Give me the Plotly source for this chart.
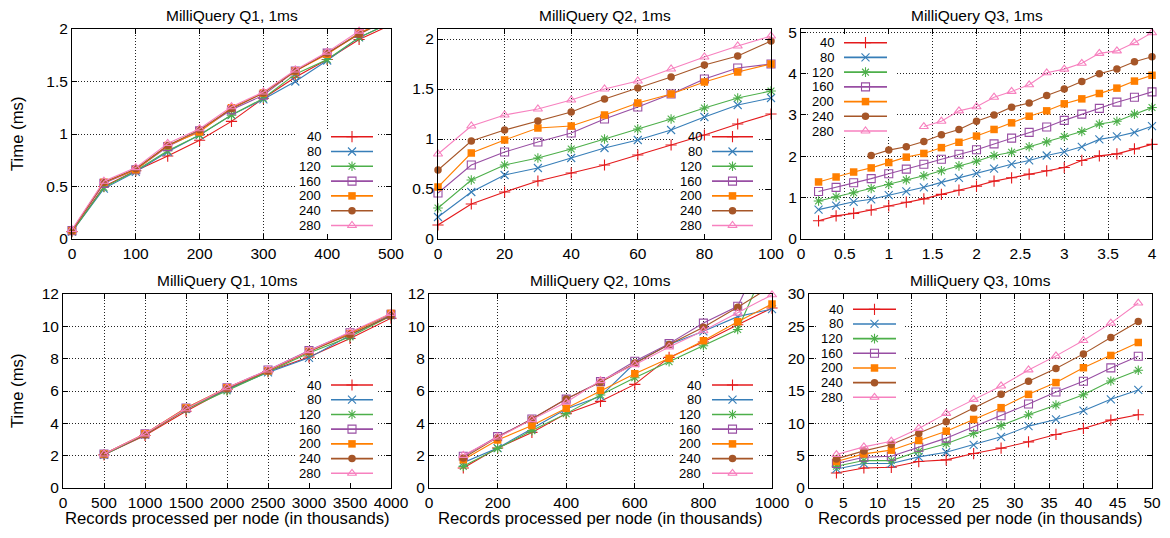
import plotly.graph_objects as go

# ---------------- data ----------------
SERIES = [40, 80, 120, 160, 200, 240, 280]
COLORS = ['#e41a1c', '#377eb8', '#4daf4a', '#984ea3', '#ff7f00', '#a65628', '#f781bf']
SYMBOLS = ['cross-thin', 'x-thin', 'asterisk', 'square-open', 'square', 'circle', 'triangle-up-open']

TITLES = ['MilliQuery Q1, 1ms', 'MilliQuery Q2, 1ms', 'MilliQuery Q3, 1ms',
          'MilliQuery Q1, 10ms', 'MilliQuery Q2, 10ms', 'MilliQuery Q3, 10ms']

Q1_1MS_X = [0, 50, 100, 150, 200, 250, 300, 350, 400, 450, 500]
Q1_1MS_Y = [
    [0.07, 0.50, 0.65, 0.79, 0.94, 1.12, 1.34, 1.54, 1.71, 1.90, 2.04],
    [0.07, 0.48, 0.64, 0.83, 0.99, 1.18, 1.33, 1.50, 1.70, 1.92, 2.06],
    [0.07, 0.49, 0.65, 0.84, 0.99, 1.18, 1.34, 1.57, 1.71, 1.92, 2.06],
    [0.08, 0.53, 0.66, 0.88, 1.03, 1.23, 1.37, 1.60, 1.77, 1.96, 2.10],
    [0.08, 0.54, 0.66, 0.89, 1.02, 1.25, 1.39, 1.60, 1.76, 1.96, 2.10],
    [0.08, 0.54, 0.67, 0.89, 1.04, 1.24, 1.39, 1.60, 1.77, 1.95, 2.10],
    [0.09, 0.55, 0.68, 0.91, 1.05, 1.26, 1.40, 1.61, 1.78, 1.98, 2.12],
]

Q2_1MS_X = [0, 10, 20, 30, 40, 50, 60, 70, 80, 90, 100]
Q2_1MS_Y = [
    [0.14, 0.35, 0.47, 0.58, 0.66, 0.74, 0.84, 0.94, 1.04, 1.15, 1.25],
    [0.22, 0.47, 0.64, 0.71, 0.81, 0.91, 0.99, 1.09, 1.22, 1.34, 1.41],
    [0.31, 0.59, 0.74, 0.81, 0.90, 1.00, 1.10, 1.20, 1.31, 1.41, 1.48],
    [0.46, 0.74, 0.87, 0.97, 1.06, 1.20, 1.32, 1.45, 1.60, 1.71, 1.75],
    [0.52, 0.86, 0.99, 1.11, 1.13, 1.24, 1.36, 1.45, 1.57, 1.67, 1.75],
    [0.69, 0.98, 1.09, 1.18, 1.27, 1.40, 1.51, 1.62, 1.74, 1.83, 1.98],
    [0.85, 1.13, 1.24, 1.30, 1.39, 1.50, 1.58, 1.70, 1.82, 1.93, 2.03],
]

Q3_1MS_X = [0.2, 0.4, 0.6, 0.8, 1.0, 1.2, 1.4, 1.6, 1.8, 2.0,
            2.2, 2.4, 2.6, 2.8, 3.0, 3.2, 3.4, 3.6, 3.8, 4.0]
Q3_1MS_Y = [
    [0.44, 0.56, 0.62, 0.70, 0.80, 0.89, 0.97, 1.08, 1.18, 1.28,
     1.40, 1.48, 1.57, 1.65, 1.73, 1.90, 2.01, 2.06, 2.18, 2.29],
    [0.71, 0.81, 0.90, 0.96, 1.06, 1.15, 1.25, 1.37, 1.48, 1.59,
     1.70, 1.81, 1.90, 2.02, 2.11, 2.23, 2.41, 2.48, 2.58, 2.73],
    [0.92, 1.02, 1.12, 1.22, 1.32, 1.43, 1.53, 1.65, 1.77, 1.88,
     2.02, 2.10, 2.23, 2.35, 2.48, 2.60, 2.78, 2.85, 3.02, 3.18],
    [1.15, 1.25, 1.36, 1.46, 1.58, 1.69, 1.81, 1.93, 2.05, 2.16,
     2.30, 2.44, 2.58, 2.71, 2.87, 3.02, 3.16, 3.31, 3.43, 3.56],
    [1.38, 1.50, 1.62, 1.72, 1.85, 1.98, 2.07, 2.21, 2.34, 2.49,
     2.65, 2.81, 2.97, 3.10, 3.27, 3.39, 3.52, 3.65, 3.82, 3.96],
    [None, None, None, 2.02, 2.15, 2.23, 2.36, 2.52, 2.65, 2.85,
     3.00, 3.19, 3.29, 3.47, 3.63, 3.81, 4.00, 4.11, 4.29, 4.41],
    [None, None, None, None, None, None, 2.72, 2.85, 3.10, 3.20,
     3.43, 3.57, 3.73, 4.02, 4.11, 4.25, 4.49, 4.55, 4.75, 4.99],
]

Q1_10MS_X = [500, 1000, 1500, 2000, 2500, 3000, 3500, 4000]
Q1_10MS_Y = [
    [2.05, 3.25, 4.75, 6.10, 7.20, 8.10, 9.25, 10.50],
    [2.05, 3.30, 4.90, 6.10, 7.15, 8.05, 9.45, 10.70],
    [2.05, 3.30, 4.85, 6.00, 7.20, 8.35, 9.35, 10.65],
    [2.10, 3.35, 4.95, 6.20, 7.30, 8.50, 9.60, 10.75],
    [2.10, 3.35, 4.95, 6.20, 7.25, 8.45, 9.55, 10.80],
    [2.10, 3.30, 4.90, 6.15, 7.25, 8.45, 9.50, 10.65],
    [2.10, 3.35, 4.90, 6.20, 7.30, 8.50, 9.65, 10.80],
]

Q2_10MS_X = [100, 200, 300, 400, 500, 600, 700, 800, 900, 1000]
Q2_10MS_Y = [
    [1.24, 2.47, 3.44, 4.60, 5.36, 6.41, 8.08, 9.03, 10.10, 11.13],
    [1.57, 2.47, 3.67, 4.89, 5.67, 7.73, 8.87, 9.69, 10.60, 11.07],
    [1.34, 2.45, 3.55, 4.60, 5.75, 6.82, 7.81, 8.80, 9.80, 14.60],
    [1.96, 3.18, 4.27, 5.50, 6.58, 7.84, 8.93, 10.20, 11.24, 15.70],
    [1.75, 2.97, 3.86, 4.93, 6.04, 7.07, 8.02, 9.11, 10.29, 11.38],
    [1.86, 3.13, 4.27, 5.50, 6.54, 7.73, 8.87, 9.94, 11.18, 12.50],
    [2.02, 3.15, 4.23, 5.30, 6.64, 7.63, 8.72, 9.73, 10.82, 11.95],
]

Q3_10MS_X = [4, 8, 12, 16, 20, 24, 28, 32, 36, 40, 44, 48]
Q3_10MS_Y = [
    [2.33, 3.10, 3.20, 4.09, 4.35, 5.33, 6.16, 7.14, 8.28, 9.21, 10.50, 11.33],
    [2.95, 3.78, 3.78, 4.81, 5.53, 6.67, 7.91, 9.57, 10.60, 11.95, 13.71, 15.16],
    [3.36, 4.24, 4.24, 5.69, 6.83, 8.43, 9.67, 11.33, 12.83, 14.43, 16.55, 18.20],
    [3.78, 4.76, 4.91, 6.31, 7.71, 9.47, 11.17, 12.98, 14.85, 16.50, 18.57, 20.38],
    [4.09, 5.28, 5.85, 7.35, 8.79, 10.60, 12.42, 14.48, 16.30, 18.60, 20.50, 22.50],
    [4.50, 5.74, 6.72, 8.43, 10.24, 12.36, 14.48, 16.50, 18.47, 20.74, 23.28, 25.76],
    [5.17, 6.36, 7.24, 9.21, 11.54, 13.71, 15.78, 18.26, 20.43, 22.81, 25.50, 28.60],
]

PANEL_X = [Q1_1MS_X, Q2_1MS_X, Q3_1MS_X, Q1_10MS_X, Q2_10MS_X, Q3_10MS_X]
PANEL_Y = [Q1_1MS_Y, Q2_1MS_Y, Q3_1MS_Y, Q1_10MS_Y, Q2_10MS_Y, Q3_10MS_Y]

X_RANGES = [[0, 500], [0, 100], [0, 4], [0, 4000], [0, 1000], [0, 50]]
Y_RANGES = [[0, 2], [0, 2.1], [0, 5.08], [0, 12], [0, 12], [0, 30]]
X_DTICK = [100, 20, 0.5, 500, 200, 5]
Y_DTICK = [0.5, 0.5, 1, 2, 2, 5]

Y_LABEL = 'Time (ms)'
X_LABEL = 'Records processed per node (in thousands)'

# ---------------- layout geometry (pixels) ----------------
W, H = 1170, 538
FONT = 'Liberation Sans, Arial, Helvetica, sans-serif'
FS = 15.5
LEG_FS = 13

# plot-area boxes: left, right, top, bottom
BOX = [(72, 391, 29, 239), (438, 771, 29, 239), (801, 1152, 29, 239),
       (63, 391, 294, 488), (429, 772, 294, 488), (809, 1152, 294, 488)]

# key geometry: label right edge, sample start/end, first row y, row step, white box
LEG = [
    dict(lab=322, s0=331, s1=373, r0=136.7, dr=14.8, box=(297, 377, 130, 236)),
    dict(lab=703, s0=712, s1=753, r0=136.7, dr=14.8, box=(675, 757, 130, 236)),
    dict(lab=835, s0=844, s1=887, r0=42.7, dr=14.72, box=(808, 896, 35, 137)),
    dict(lab=322, s0=331, s1=373, r0=385, dr=14.72, box=(297, 377, 378, 481)),
    dict(lab=702, s0=712, s1=753, r0=385, dr=14.72, box=(675, 757, 378, 481)),
    dict(lab=844, s0=853, s1=896, r0=309.3, dr=14.67, box=(816, 903, 300, 402)),
]


def px_to_data(p, px, py):
    l, r, t, b = BOX[p]
    xr, yr = X_RANGES[p], Y_RANGES[p]
    xd = xr[0] + (px - l) / (r - l) * (xr[1] - xr[0])
    yd = yr[0] + (b - py) / (b - t) * (yr[1] - yr[0])
    return xd, yd


def marker_style(i, opacity):
    filled = SYMBOLS[i] in ('square', 'circle')
    return dict(symbol=SYMBOLS[i], size=7.5 if filled else 8, color=COLORS[i],
                opacity=opacity,
                line=dict(color=COLORS[i], width=0 if filled else 1.1))


fig = go.Figure()
annotations = []
shapes = []

for p in range(6):
    xa = 'x' if p == 0 else f'x{p + 1}'
    ya = 'y' if p == 0 else f'y{p + 1}'
    ymax = Y_RANGES[p][1]
    for i, s in enumerate(SERIES):
        ys = PANEL_Y[p][i]
        op = [0 if (v is None or v > ymax) else 1 for v in ys]
        fig.add_trace(go.Scatter(
            x=PANEL_X[p], y=ys, mode='lines+markers', name=str(s),
            xaxis=xa, yaxis=ya, showlegend=False, cliponaxis=False,
            line=dict(color=COLORS[i], width=1.1),
            marker=marker_style(i, op),
        ))
    # key box (white, hides grid)
    lg = LEG[p]
    bx0, by0 = px_to_data(p, lg['box'][0], lg['box'][3])
    bx1, by1 = px_to_data(p, lg['box'][1], lg['box'][2])
    shapes.append(dict(type='rect', xref=xa, yref=ya, x0=bx0, x1=bx1, y0=by0, y1=by1,
                       fillcolor='white', line=dict(width=0), layer='between'))
    # key samples
    for i, s in enumerate(SERIES):
        py = lg['r0'] + i * lg['dr']
        xa0, yd = px_to_data(p, lg['s0'], py)
        xa1, _ = px_to_data(p, lg['s1'], py)
        fig.add_trace(go.Scatter(
            x=[xa0, (xa0 + xa1) / 2, xa1], y=[yd, yd, yd], mode='lines+markers',
            xaxis=xa, yaxis=ya, showlegend=False, cliponaxis=False, hoverinfo='skip',
            line=dict(color=COLORS[i], width=1.6),
            marker=marker_style(i, [0, 1, 0]),
        ))
        annotations.append(dict(text=str(s), xref='paper', yref='paper',
                                x=lg['lab'] / W, y=1 - py / H, xanchor='right',
                                yanchor='middle', showarrow=False, borderpad=0,
                                font=dict(family=FONT, size=LEG_FS, color='black')))
    # subplot title
    l, r, t, b = BOX[p]
    ty = 15 if p < 3 else 280
    annotations.append(dict(text=TITLES[p], xref='paper', yref='paper',
                            x=(l + r) / 2 / W, y=1 - ty / H, xanchor='center',
                            yanchor='middle', showarrow=False,
                            font=dict(family=FONT, size=FS, color='black')))
    if p >= 3:
        annotations.append(dict(text=X_LABEL, xref='paper', yref='paper',
                                x=(l + r) / 2 / W, y=1 - 518 / H, xanchor='center',
                                yanchor='middle', showarrow=False,
                                font=dict(family=FONT, size=16.7, color='black')))
    if p in (0, 3):
        annotations.append(dict(text=Y_LABEL, xref='paper', yref='paper',
                                x=17 / W, y=1 - (t + b) / 2 / H, xanchor='center',
                                yanchor='middle', showarrow=False, textangle=-90,
                                font=dict(family=FONT, size=16.7, color='black')))

layout = dict(
    template='none',
    width=W, height=H, margin=dict(l=0, r=0, t=0, b=0, pad=0, autoexpand=False),
    paper_bgcolor='white', plot_bgcolor='white', showlegend=False,
    font=dict(family=FONT, size=FS, color='black'),
    annotations=annotations, shapes=shapes,
)

axis_common = dict(showline=True, linecolor='black', linewidth=1, mirror='ticks',
                   ticks='inside', ticklen=5, tickcolor='black', tickwidth=1,
                   showgrid=True, gridcolor='#222', gridwidth=1, griddash='1px,2px',
                   zeroline=False, automargin=False,
                   tickfont=dict(family=FONT, size=FS, color='black'))

for p in range(6):
    l, r, t, b = BOX[p]
    xk = 'xaxis' if p == 0 else f'xaxis{p + 1}'
    yk = 'yaxis' if p == 0 else f'yaxis{p + 1}'
    ya = 'y' if p == 0 else f'y{p + 1}'
    xa = 'x' if p == 0 else f'x{p + 1}'
    layout[xk] = dict(axis_common, domain=[l / W, r / W], range=X_RANGES[p],
                      tick0=0, dtick=X_DTICK[p], anchor=ya)
    layout[yk] = dict(axis_common, domain=[1 - b / H, 1 - t / H], range=Y_RANGES[p],
                      tick0=0, dtick=Y_DTICK[p], anchor=xa)

fig.update_layout(**layout)
fig.write_html('out.html', config={'displayModeBar': False},
               post_script="document.body.style.margin='0';")
